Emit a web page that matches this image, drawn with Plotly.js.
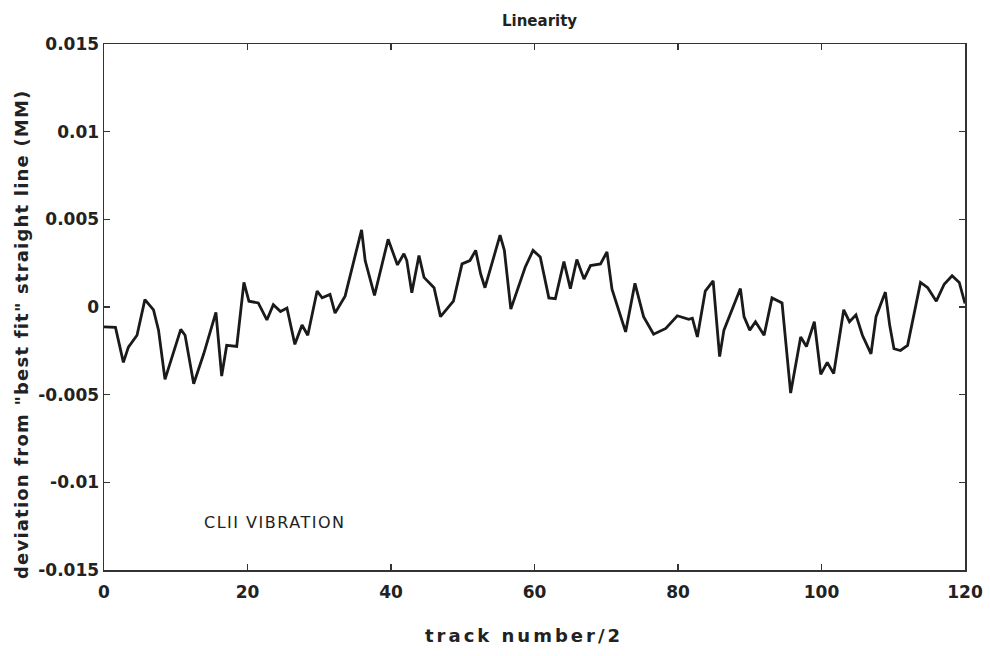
<!DOCTYPE html>
<html>
<head>
<meta charset="utf-8">
<script src="https://cdn.plot.ly/plotly-3.0.1.min.js"></script>
<style>html,body{margin:0;padding:0;background:#fff;}#chart{width:990px;height:656px;}</style>
</head>
<body>
<div id="chart"></div>
<script>
const trackX = [0, 1.6, 2.7, 3.4, 4.6, 5.7, 6.9, 7.6, 8.5, 10.7, 11.3, 12.5, 13.9, 15.6, 16.4, 17.1, 18.5, 19.5,
  20.2, 21.5, 22.7, 23.6, 24.6, 25.5, 26.6, 27.6, 28.4, 29.7, 30.4, 31.5, 32.2, 33.6, 35.9, 36.4, 37.7, 39.6,
  40.9, 41.8, 42.2, 42.9, 43.9, 44.6, 46.0, 46.9, 48.7, 49.9, 51.0, 51.8, 52.5, 53.1, 55.2, 55.8, 56.7, 58.7, 59.8,
  60.8, 62.0, 62.9, 64.1, 65.0, 65.9, 66.9, 67.8, 69.2, 70.1, 70.8, 72.7, 74.0, 75.2, 76.6, 78.3, 79.9,
  81.5, 82.0, 82.7, 83.8, 84.9, 85.8, 86.4, 88.7, 89.2, 90.0, 90.8, 92.0, 93.1, 94.5, 95.7, 97.1, 97.9, 99.0, 99.9,
  100.8, 101.7, 103.1, 103.9, 104.8, 105.7, 106.9, 107.6, 108.9, 109.5, 110.1, 111.0, 112.0, 113.8, 114.8, 116.0, 117.1, 118.2, 119.2, 120];
const deviation = [-1.13, -1.16, -3.16, -2.29, -1.61, 0.42, -0.16, -1.32, -4.13, -1.28, -1.61, -4.38, -2.67, -0.31, -3.94, -2.19, -2.25, 1.40,
  0.33, 0.23, -0.74, 0.13, -0.26, -0.06, -2.13, -1.03, -1.61, 0.91, 0.52, 0.72, -0.35, 0.62, 4.40, 2.65, 0.66, 3.86,
  2.40, 3.04, 2.65, 0.81, 2.94, 1.69, 1.10, -0.55, 0.33, 2.46, 2.65, 3.23, 1.88, 1.10, 4.10, 3.23, -0.12, 2.27, 3.23,
  2.85, 0.52, 0.47, 2.59, 1.05, 2.71, 1.59, 2.36, 2.46, 3.14, 1.01, -1.42, 1.35, -0.55, -1.55, -1.22, -0.50,
  -0.70, -0.64, -1.71, 0.91, 1.49, -2.83, -1.32, 1.05, -0.55, -1.32, -0.84, -1.61, 0.52, 0.23, -4.91, -1.71, -2.25, -0.84, -3.84,
  -3.16, -3.80, -0.16, -0.84, -0.45, -1.61, -2.67, -0.55, 0.85, -1.03, -2.38, -2.48, -2.19, 1.40, 1.10, 0.33, 1.30, 1.78, 1.40, 0.20].map(v => v / 1000);

const yTickVals = [0.015, 0.01, 0.005, 0, -0.005, -0.01, -0.015];
const yTickText = ["0.015", "0.01", "0.005", "0", "-0.005", "-0.01", "-0.015"];
const xTickVals = [0, 20, 40, 60, 80, 100, 120];
const xTickText = ["0", "20", "40", "60", "80", "100", "120"];

const fontFam = "DejaVu Sans, Verdana, sans-serif";
const data = [{
  x: trackX, y: deviation, type: 'scatter', mode: 'lines',
  line: {color: '#1a1a1a', width: 2.8}, hoverinfo: 'skip'
}];
const layout = {
  width: 990, height: 656,
  margin: {l: 104, r: 25, t: 44, b: 86},
  paper_bgcolor: '#ffffff', plot_bgcolor: '#ffffff',
  showlegend: false,
  title: {text: 'Linearity', x: 0.545, xanchor: 'center', y: 0.968, yanchor: 'middle',
    font: {family: fontFam, size: 15, color: '#222', weight: 'bold'}},
  xaxis: {
    range: [0, 120], tickvals: xTickVals, ticktext: xTickText,
    ticks: 'inside', ticklen: 6, tickwidth: 1.5, tickcolor: '#333', mirror: 'ticks',
    showline: true, linecolor: '#333', linewidth: 1.5, showgrid: false, zeroline: false,
    ticklabelstandoff: 6,
    tickfont: {family: fontFam, size: 17, color: '#222', weight: 'bold'}
  },
  yaxis: {
    range: [-0.015, 0.015], tickvals: yTickVals, ticktext: yTickText,
    ticks: 'inside', ticklen: 6, tickwidth: 1.5, tickcolor: '#333', mirror: 'ticks',
    showline: true, linecolor: '#333', linewidth: 1.5, showgrid: false, zeroline: false,
    tickfont: {family: fontFam, size: 17, color: '#222', weight: 'bold'}
  },
  annotations: [{
    x: 13.7, y: -0.0123, xref: 'x', yref: 'y', xanchor: 'left', yanchor: 'middle',
    text: '<span style="letter-spacing:1.5px">CLII VIBRATION</span>', showarrow: false,
    font: {family: fontFam, size: 16, color: '#222'}
  }, {
    x: 0.488, y: -0.125, xref: 'paper', yref: 'paper', xanchor: 'center', yanchor: 'middle',
    text: '<span style="letter-spacing:3px">track number/2</span>', showarrow: false,
    font: {family: fontFam, size: 18, color: '#222', weight: 'bold'}
  }, {
    x: -0.095, y: 0.449, xref: 'paper', yref: 'paper', xanchor: 'center', yanchor: 'middle',
    textangle: -90,
    text: '<span style="letter-spacing:1.2px">deviation from "best fit" straight line (MM)</span>', showarrow: false,
    font: {family: fontFam, size: 18, color: '#222', weight: 'bold'}
  }]
};
Plotly.newPlot('chart', data, layout, {displayModeBar: false, staticPlot: true});
</script>
</body>
</html>
